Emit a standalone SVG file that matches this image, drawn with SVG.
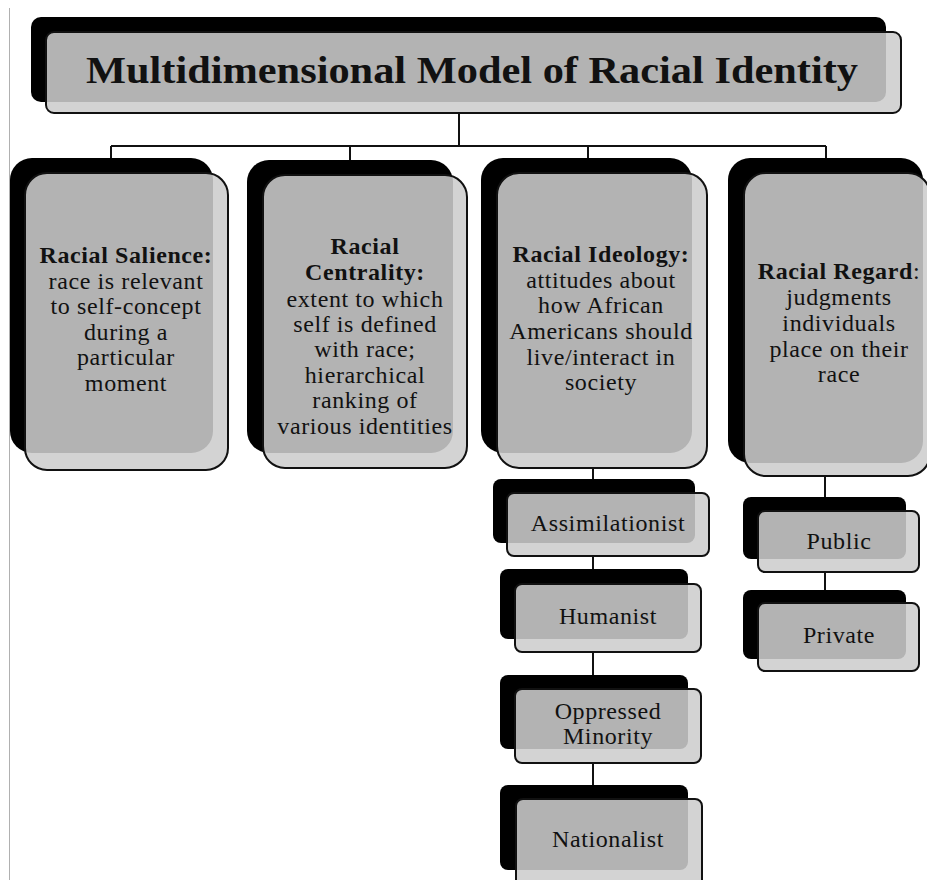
<svg xmlns="http://www.w3.org/2000/svg" width="927" height="880" viewBox="0 0 927 880">
<style>
.sh{fill:#000}
.fr{fill:#cdcdcd;fill-opacity:0.875;stroke:#111;stroke-width:2}
.t{font-family:"Liberation Serif","Times New Roman",serif;font-size:24px;fill:#111;text-anchor:middle;letter-spacing:0.6px}
.b{font-weight:bold}
.title{font-family:"Liberation Serif","Times New Roman",serif;font-size:38px;font-weight:bold;fill:#111;text-anchor:middle}
.c{fill:none;stroke:#111;stroke-width:2}
</style>
<rect x="0" y="0" width="927" height="880" fill="#fff"/>
<line x1="9.5" y1="8" x2="9.5" y2="880" stroke="#b0b0b0" stroke-width="1"/>
<g id="connectors">
<path class="c" d="M459 114 V146 M111 146 H826 M111 146 V158 M350 146 V160 M588 146 V158 M826 146 V158 M593 468 V493 M593 556 V584 M593 652 V689 M593 763 V800 M825 476 V511 M825 572 V603"/>
</g>
<g id="title">
<rect class="sh" x="31" y="17" width="855" height="85" rx="10"/>
<rect class="fr" x="46" y="32" width="855" height="81" rx="8"/>
<text class="title" x="472" y="83" textLength="772" lengthAdjust="spacingAndGlyphs">Multidimensional Model of Racial Identity</text>
</g>
<g id="salience">
<rect class="sh" x="10" y="158" width="203" height="295" rx="22"/>
<rect class="fr" x="25" y="173" width="203" height="297" rx="22"/>
<text class="t" x="126"><tspan class="b" x="126" y="263">Racial Salience:</tspan><tspan x="126" y="289">race is relevant</tspan><tspan x="126" y="314">to self-concept</tspan><tspan x="126" y="340">during a</tspan><tspan x="126" y="365">particular</tspan><tspan x="126" y="391">moment</tspan></text>
</g>
<g id="centrality">
<rect class="sh" x="247" y="160" width="206" height="293" rx="22"/>
<rect class="fr" x="263" y="175" width="204" height="293" rx="22"/>
<text class="t" x="365"><tspan class="b" x="365" y="254">Racial</tspan><tspan class="b" x="365" y="280">Centrality:</tspan><tspan x="365" y="307">extent to which</tspan><tspan x="365" y="332">self is defined</tspan><tspan x="365" y="357">with race;</tspan><tspan x="365" y="383">hierarchical</tspan><tspan x="365" y="408">ranking of</tspan><tspan x="365" y="434">various identities</tspan></text>
</g>
<g id="ideology">
<rect class="sh" x="481" y="158" width="211" height="295" rx="22"/>
<rect class="fr" x="497" y="173" width="210" height="295" rx="22"/>
<text class="t" x="601"><tspan class="b" x="601" y="262">Racial Ideology:</tspan><tspan x="601" y="288">attitudes about</tspan><tspan x="601" y="313">how African</tspan><tspan x="601" y="339">Americans should</tspan><tspan x="601" y="365">live/interact in</tspan><tspan x="601" y="390">society</tspan></text>
</g>
<g id="regard">
<rect class="sh" x="728" y="158" width="195" height="305" rx="22"/>
<rect class="fr" x="744" y="173" width="186" height="303" rx="22"/>
<text class="t" x="839"><tspan x="839" y="279"><tspan class="b">Racial Regard</tspan>:</tspan><tspan x="839" y="305">judgments</tspan><tspan x="839" y="331">individuals</tspan><tspan x="839" y="357">place on their</tspan><tspan x="839" y="382">race</tspan></text>
</g>
<g id="assimilationist">
<rect class="sh" x="493" y="479" width="202" height="64" rx="8"/>
<rect class="fr" x="507" y="493" width="202" height="63" rx="7"/>
<text class="t" x="608" y="531">Assimilationist</text>
</g>
<g id="humanist">
<rect class="sh" x="500" y="569" width="188" height="70" rx="8"/>
<rect class="fr" x="515" y="584" width="186" height="68" rx="7"/>
<text class="t" x="608" y="624">Humanist</text>
</g>
<g id="oppressed">
<rect class="sh" x="500" y="675" width="188" height="74" rx="8"/>
<rect class="fr" x="515" y="689" width="186" height="74" rx="7"/>
<text class="t" x="608"><tspan x="608" y="719">Oppressed</tspan><tspan x="608" y="744">Minority</tspan></text>
</g>
<g id="nationalist">
<rect class="sh" x="500" y="785" width="188" height="85" rx="8"/>
<rect class="fr" x="516" y="799" width="186" height="95" rx="7"/>
<text class="t" x="608" y="847">Nationalist</text>
</g>
<g id="public">
<rect class="sh" x="743" y="497" width="163" height="62" rx="8"/>
<rect class="fr" x="758" y="511" width="161" height="61" rx="7"/>
<text class="t" x="839" y="549">Public</text>
</g>
<g id="private">
<rect class="sh" x="743" y="590" width="163" height="69" rx="8"/>
<rect class="fr" x="758" y="603" width="161" height="68" rx="7"/>
<text class="t" x="839" y="643">Private</text>
</g>
</svg>
